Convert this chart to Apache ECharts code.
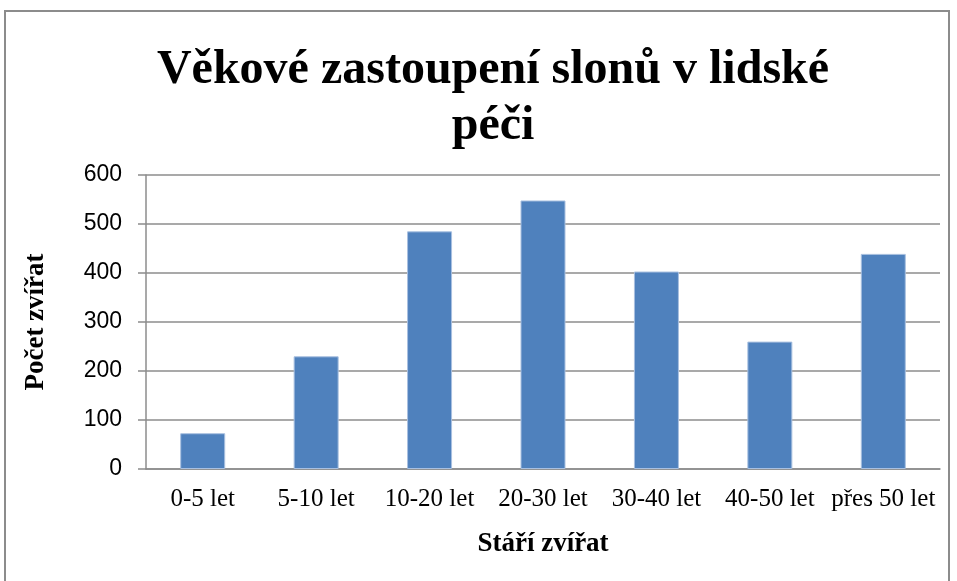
<!DOCTYPE html>
<html>
<head>
<meta charset="utf-8">
<script src="https://cdn.jsdelivr.net/npm/echarts@6/dist/echarts.min.js"></script>
<style>
  html, body { margin: 0; padding: 0; background: #fff; }
  #frame { position: absolute; left: 4px; top: 10px; width: 946px; height: 600px; border: 2px solid #8c8c8c; box-sizing: border-box; }
  #chart { position: absolute; left: 0; top: 0; width: 957px; height: 581px; }
</style>
</head>
<body>
<div id="frame"></div>
<div id="chart"></div>
<script>
var categories = ['0-5 let', '5-10 let', '10-20 let', '20-30 let', '30-40 let', '40-50 let', 'přes 50 let']
var counts = [73, 230, 485, 548, 403, 260, 439]

var chart = echarts.init(document.getElementById('chart'))
var option = {
  animation: false,
  title: {
    text: 'Věkové zastoupení slonů v lidské\npéči',
    left: 488,
    textAlign: 'center',
    top: 38,
    textStyle: {
      fontFamily: 'Liberation Serif',
      fontWeight: 'bold',
      fontSize: 48,
      lineHeight: 56,
      color: '#000'
    }
  },
  grid: {
    left: 146,
    right: 17,
    top: 175,
    bottom: 112
  },
  xAxis: {
    type: 'category',
    data: categories,
    name: 'Stáří zvířat',
    nameLocation: 'middle',
    nameGap: 62,
    nameTextStyle: {
      fontFamily: 'Liberation Serif',
      fontWeight: 'bold',
      fontSize: 27,
      color: '#000'
    },
    axisLine: { lineStyle: { color: '#8c8c8c', width: 1.5 } },
    axisTick: { show: false },
    axisLabel: {
      fontFamily: 'Liberation Serif',
      fontSize: 25,
      color: '#000',
      margin: 18,
      interval: 0
    }
  },
  yAxis: {
    type: 'value',
    min: 0,
    max: 600,
    interval: 100,
    name: 'Počet zvířat',
    nameLocation: 'middle',
    nameGap: 96,
    nameRotate: 90,
    nameTextStyle: {
      fontFamily: 'Liberation Serif',
      fontWeight: 'bold',
      fontSize: 27,
      color: '#000'
    },
    axisLine: { show: true, lineStyle: { color: '#8c8c8c', width: 1.5 } },
    axisTick: { show: true, length: 8, lineStyle: { color: '#8c8c8c', width: 1.5 } },
    axisLabel: {
      fontFamily: 'Liberation Sans',
      fontSize: 23,
      color: '#000',
      margin: 24
    },
    splitLine: { lineStyle: { color: '#8c8c8c', width: 1.5 } }
  },
  series: [
    {
      type: 'bar',
      data: counts,
      barWidth: 45,
      itemStyle: {
        color: '#4F81BD',
        borderColor: '#a9c0e0',
        borderWidth: 1
      }
    }
  ]
}
chart.setOption(option)
</script>
</body>
</html>
